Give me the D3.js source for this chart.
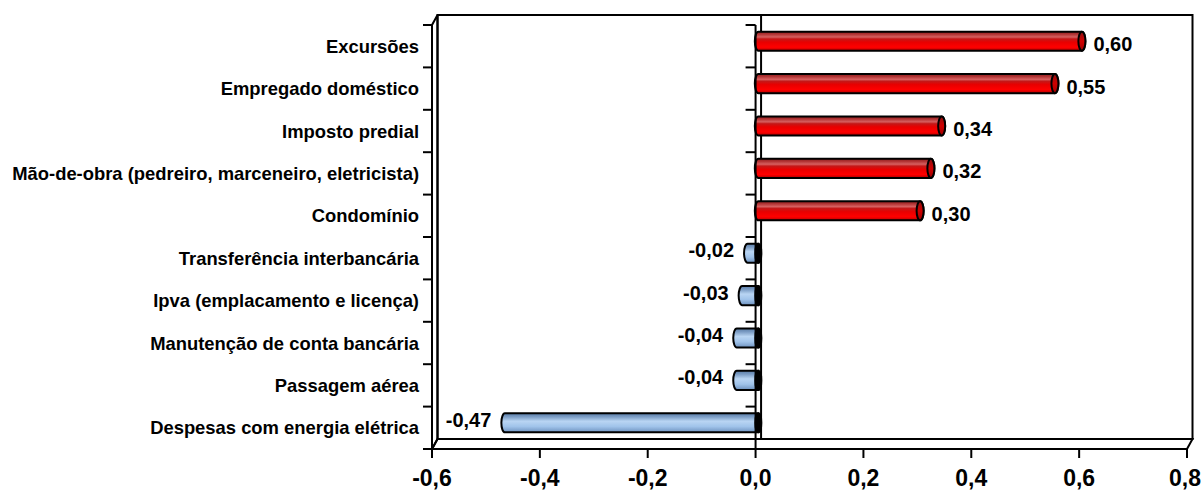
<!DOCTYPE html>
<html>
<head>
<meta charset="utf-8">
<script src="https://cdn.jsdelivr.net/npm/d3@7"></script>
<style>
  body { margin: 0; background: #fff; }
  svg { display: block; font-family: "Liberation Sans", Arial, sans-serif; font-weight: bold; }
</style>
</head>
<body>
<div id="chart"></div>
<script>
const categories = [
  "Excursões",
  "Empregado doméstico",
  "Imposto predial",
  "Mão-de-obra (pedreiro, marceneiro, eletricista)",
  "Condomínio",
  "Transferência interbancária",
  "Ipva (emplacamento e licença)",
  "Manutenção de conta bancária",
  "Passagem aérea",
  "Despesas com energia elétrica"
];
const values = [0.60, 0.55, 0.34, 0.32, 0.30, -0.02, -0.03, -0.04, -0.04, -0.47];
const xTicks = [-0.6, -0.4, -0.2, 0.0, 0.2, 0.4, 0.6, 0.8];

const width = 1204, height = 492;
const margin = {top: 25, right: 17, bottom: 43, left: 432};
// 3d depth offset of the back wall
const dx = 5.5, dy = -10;

const svg = d3.select("#chart").append("svg")
  .attr("width", width)
  .attr("height", height);

const x = d3.scaleLinear()
  .domain([xTicks[0], xTicks[xTicks.length - 1]])
  .range([margin.left, width - margin.right]);

const y = d3.scaleBand()
  .domain(categories)
  .range([margin.top, height - margin.bottom]);

const comma = f => s => d3.format(f)(s).replace(".", ",").replace("−", "-");

const x0 = x.range()[0], x1 = x.range()[1];
const y0 = y.range()[0], y1 = y.range()[1];

// gradients
const defs = svg.append("defs");
function grad(id, stops) {
  const g = defs.append("linearGradient").attr("id", id)
    .attr("x1", 0).attr("y1", 0).attr("x2", 0).attr("y2", 1);
  stops.forEach(s => g.append("stop").attr("offset", s[0]).attr("stop-color", s[1]));
}
grad("red", [[0, "#8e1c1c"], [0.14, "#b33636"], [0.28, "#d66060"], [0.38, "#c41818"],
             [0.55, "#e80000"], [0.82, "#ff0000"], [1, "#b00000"]]);
grad("redcap", [[0, "#901010"], [0.5, "#d00000"], [1, "#a00000"]]);
grad("blue", [[0, "#5a7ca6"], [0.18, "#7b9cc4"], [0.42, "#b9d5f3"], [0.7, "#a0c3ea"], [1, "#6d91be"]]);

const wall = svg.append("g").attr("fill", "none").attr("stroke", "#000").attr("stroke-width", 2);

// back wall
wall.append("rect")
  .attr("x", x0 + dx).attr("y", y0 + dy)
  .attr("width", x1 - x0).attr("height", y1 - y0);
// left side wall
wall.append("path")
  .attr("d", `M${x0},${y0}L${x0 + dx},${y0 + dy}L${x0 + dx},${y1 + dy}L${x0},${y1}Z`);
// floor
wall.append("path")
  .attr("d", `M${x0},${y1}L${x0 + dx},${y1 + dy}L${x1 + dx},${y1 + dy}L${x1},${y1}Z`);
// back zero line
wall.append("line")
  .attr("x1", x(0) + dx).attr("x2", x(0) + dx)
  .attr("y1", y0 + dy).attr("y2", y1 + dy);

// bars as cylinders, placed at mid depth
const bh = y.bandwidth() * 0.45;
const rx = 3.5;
const bars = svg.append("g").attr("stroke", "#000").attr("stroke-width", 2);

categories.forEach((c, i) => {
  const v = values[i];
  const yc = y(c) + y.bandwidth() / 2 + dy / 2;
  const yt = yc - bh / 2, yb = yc + bh / 2;
  const xs = x(0) + dx / 2, xe = x(v) + dx / 2;
  if (v >= 0) {
    bars.append("path")
      .attr("fill", "url(#red)")
      .attr("d", `M${xs},${yt}L${xe},${yt}A${rx},${bh / 2} 0 0 1 ${xe},${yb}L${xs},${yb}A${rx},${bh / 2} 0 0 1 ${xs},${yt}Z`);
    bars.append("ellipse")
      .attr("fill", "url(#redcap)")
      .attr("cx", xe).attr("cy", yc).attr("rx", rx).attr("ry", bh / 2);
  } else {
    bars.append("path")
      .attr("fill", "url(#blue)")
      .attr("d", `M${xs},${yt}L${xe},${yt}A${rx},${bh / 2} 0 0 0 ${xe},${yb}L${xs},${yb}Z`);
    bars.append("ellipse")
      .attr("fill", "#000")
      .attr("cx", xs).attr("cy", yc).attr("rx", 3).attr("ry", bh / 2);
  }
});

// front axes
const axes = svg.append("g").attr("stroke", "#000").attr("stroke-width", 2).attr("fill", "none");
axes.append("line").attr("x1", x0).attr("x2", x0).attr("y1", y0).attr("y2", y1);
axes.append("line").attr("x1", x0).attr("x2", x1).attr("y1", y1).attr("y2", y1);
axes.append("line").attr("x1", x(0)).attr("x2", x(0)).attr("y1", y0).attr("y2", y1);

const bounds = categories.map(c => y(c)).concat([y1]);
bounds.forEach(b => {
  axes.append("line").attr("x1", x0 - 9).attr("x2", x0).attr("y1", b).attr("y2", b);
  axes.append("line").attr("x1", x(0) - 10).attr("x2", x(0)).attr("y1", b).attr("y2", b);
});
xTicks.forEach(t => {
  axes.append("line").attr("x1", x(t)).attr("x2", x(t)).attr("y1", y1).attr("y2", y1 + 9);
});

// tick labels
svg.append("g")
  .attr("font-size", 23).attr("text-anchor", "middle")
  .selectAll("text").data(xTicks).join("text")
  .attr("x", (d, i) => i === xTicks.length - 1 ? x(d) - 2 : x(d)).attr("y", 486)
  .text(comma(".1f"));

svg.append("g")
  .attr("font-size", 18.4).attr("text-anchor", "end")
  .selectAll("text").data(categories).join("text")
  .attr("x", 419)
  .attr("y", d => y(d) + y.bandwidth() / 2 + 6.5)
  .text(d => d);

// data labels
svg.append("g")
  .attr("font-size", 20)
  .selectAll("text").data(values).join("text")
  .attr("text-anchor", d => d >= 0 ? "start" : "end")
  .attr("x", d => x(d) + dx / 2 + (d >= 0 ? rx + 8 : -rx - 10))
  .attr("y", (d, i) => y(categories[i]) + y.bandwidth() / 2 + dy / 2 + (d >= 0 ? 3 : -3) + 7)
  .text(comma(".2f"));
</script>
</body>
</html>
